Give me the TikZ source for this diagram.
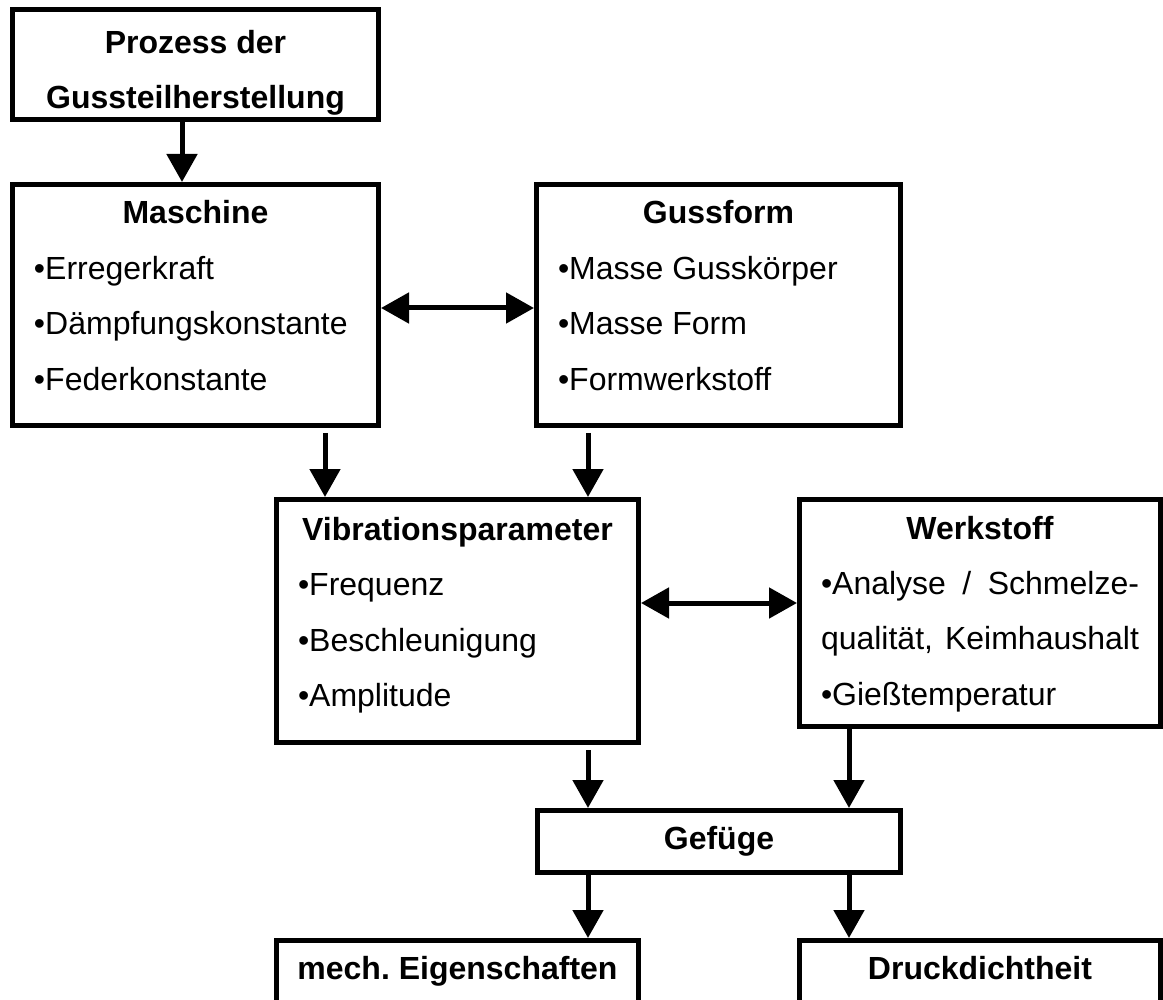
\documentclass[tikz,border=0pt]{standalone}
\usepackage{fontspec}
\setmainfont{Liberation Sans}
\usetikzlibrary{arrows.meta}
\tikzset{
  box/.style={draw, line width=5pt, inner xsep=21.5pt, inner ysep=0pt,
    font=\fontsize{32}{55.5}\selectfont},
  kopf/.style={draw, line width=5pt, inner sep=0pt, text height=23pt, text depth=7pt,
    font=\fontsize{32}{55.5}\selectfont\bfseries},
  pfeil/.style={line width=5pt, -{Triangle[length=28pt,width=30pt]}},
  doppel/.style={line width=5pt,
    {Triangle[length=28pt,width=30pt]}-{Triangle[length=28pt,width=30pt]}}
}
\begin{document}
\begin{tikzpicture}[x=1pt,y=1pt]
\useasboundingbox (0,0) rectangle (1163,-1000);
\node[box] (proz) at (195.5,-65) {\parbox[t][110pt][t]{323pt}{\centering\bfseries
  \rule{0pt}{43.5pt}Prozess der\par Gussteilherstellung}};
\node[box] (masch) at (195.5,-305) {\parbox[t][241pt][t]{323pt}{%
  {\centering\rule{0pt}{39.5pt}\textbf{Maschine}\par}
  •Erregerkraft\par •Dämpfungskonstante\par •Federkonstante}};
\node[box] (guss) at (718.5,-305) {\parbox[t][241pt][t]{321pt}{%
  {\centering\rule{0pt}{39.5pt}\textbf{Gussform}\par}
  •Masse Gusskörper\par •Masse Form\par •Formwerkstoff}};
\node[box] (vib) at (457.5,-621) {\parbox[t][243pt][t]{319pt}{%
  {\centering\rule{0pt}{40.5pt}\textbf{Vibrationsparameter}\par}
  •Frequenz\par •Beschleunigung\par •Amplitude}};
\node[box] (werk) at (980,-613) {\parbox[t][227pt][t]{318pt}{%
  {\centering\rule{0pt}{39.5pt}\textbf{Werkstoff}\par}
  \makebox[\linewidth][s]{•Analyse / Schmelze-}\par
  \makebox[\linewidth][s]{qualität,\ Keimhaushalt}\par
  •Gießtemperatur}};
\node[kopf, minimum width=363pt, minimum height=62pt] (gef) at (719,-841.5) {Gefüge};
\node[kopf, minimum width=362pt, minimum height=62pt] (mech) at (457.5,-971.5) {mech.\ Eigenschaften};
\node[kopf, minimum width=361pt, minimum height=62pt] (druck) at (980,-971.5) {Druckdichtheit};
% Verbindungen
\draw[pfeil] ([xshift=-13.5pt]proz.south) -- ([xshift=-13.5pt]proz.south |- masch.north);
\draw[doppel] ([yshift=-3pt]masch.east) -- ([yshift=-3pt]guss.west);
\draw[pfeil, shorten <=5pt] ([xshift=-56pt]masch.south east) -- ([xshift=-56pt]masch.south east |- vib.north);
\draw[pfeil, shorten <=5pt] ([xshift=54pt]guss.south west) -- ([xshift=54pt]guss.south west |- vib.north);
\draw[doppel] ([yshift=10pt]werk.west -| vib.east) -- ([yshift=10pt]werk.west);
\draw[pfeil, shorten <=5pt] ([xshift=130.5pt]vib.south) -- ([xshift=130.5pt]vib.south |- gef.north);
\draw[pfeil] ([xshift=52pt,yshift=4pt]werk.south west) -- ([xshift=52pt]werk.south west |- gef.north);
\draw[pfeil] ([xshift=53pt]gef.south west) -- ([xshift=53pt]gef.south west |- mech.north);
\draw[pfeil] ([xshift=-54pt]gef.south east) -- ([xshift=-54pt]gef.south east |- druck.north);
\end{tikzpicture}
\end{document}
